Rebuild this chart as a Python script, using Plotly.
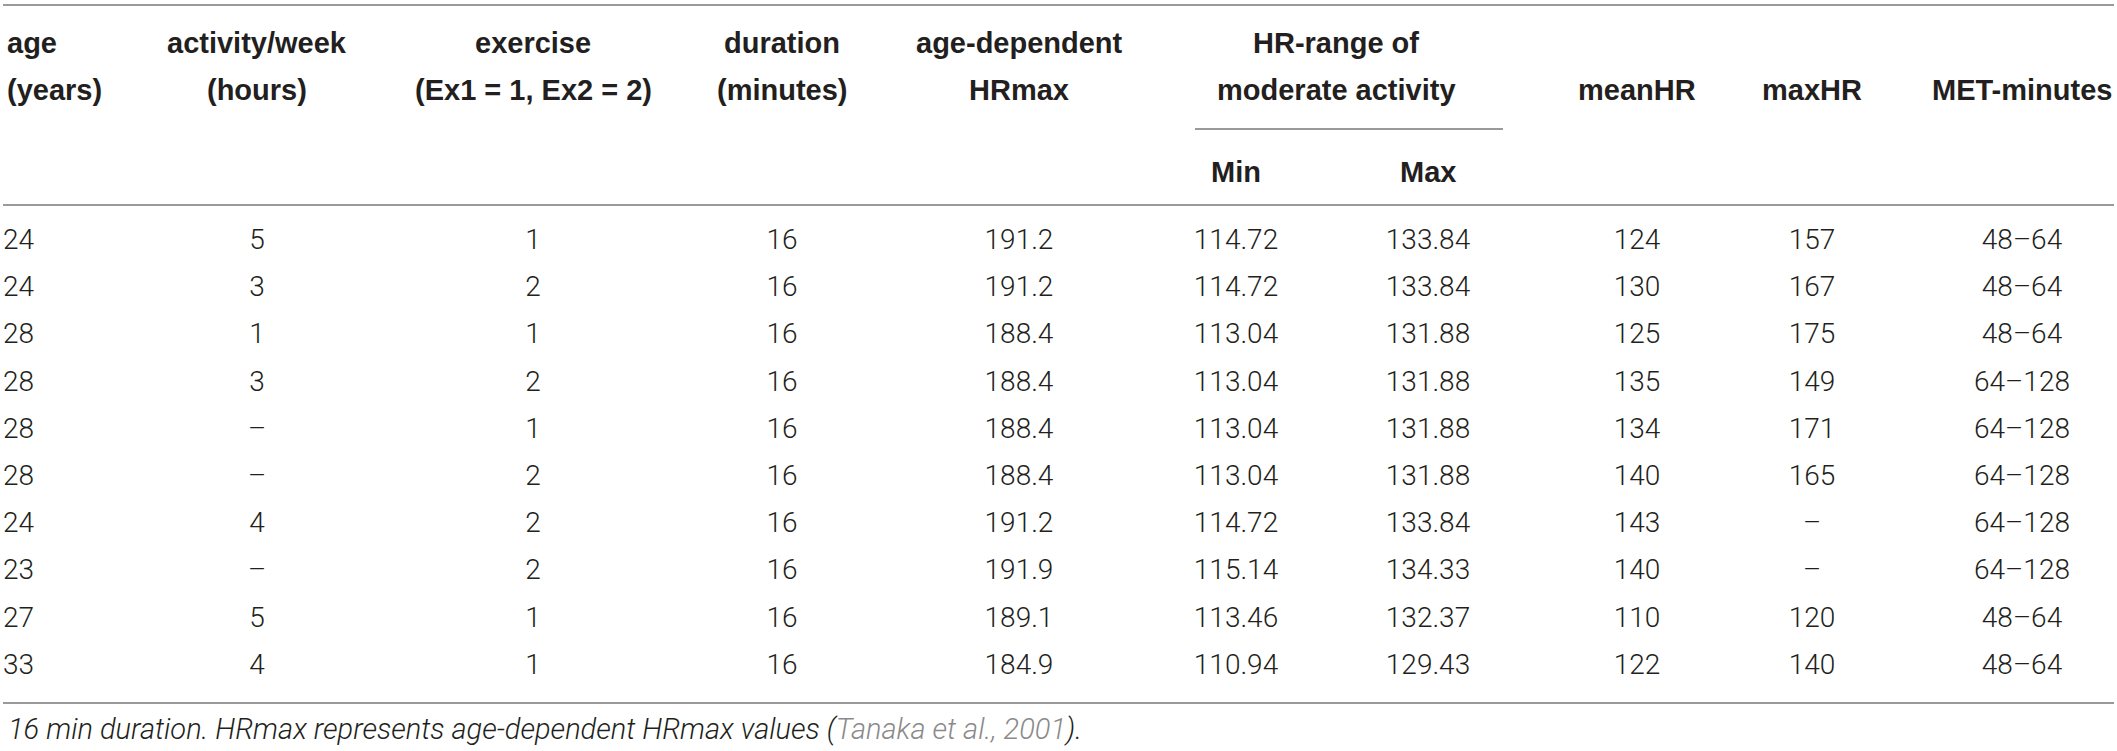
import plotly.graph_objects as go

# table values, one list per column
age = ["24", "24", "28", "28", "28", "28", "24", "23", "27", "33"]
activity = ["5", "3", "1", "3", "–", "–", "4", "–", "5", "4"]
exercise = ["1", "2", "1", "2", "1", "2", "2", "2", "1", "1"]
duration = ["16"] * 10
hrmax = ["191.2", "191.2", "188.4", "188.4", "188.4", "188.4", "191.2", "191.9", "189.1", "184.9"]
hr_min = ["114.72", "114.72", "113.04", "113.04", "113.04", "113.04", "114.72", "115.14", "113.46", "110.94"]
hr_max = ["133.84", "133.84", "131.88", "131.88", "131.88", "131.88", "133.84", "134.33", "132.37", "129.43"]
mean_hr = ["124", "130", "125", "135", "134", "140", "143", "140", "110", "122"]
max_hr = ["157", "167", "175", "149", "171", "165", "–", "–", "120", "140"]
met = ["48–64", "48–64", "48–64", "64–128", "64–128", "64–128", "64–128", "64–128", "48–64", "48–64"]

headers = [("age", "(years)"), ("activity/week", "(hours)"), ("exercise", "(Ex1 = 1, Ex2 = 2)"),
           ("duration", "(minutes)"), ("age-dependent", "HRmax"), None, None,
           ("", "meanHR"), ("", "maxHR"), ("", "MET-minutes")]
span_header = ("HR-range of", "moderate activity")
sub_headers = ["Min", "Max"]
footnote = "16 min duration. HRmax represents age-dependent HRmax values ("
citation = "Tanaka et al., 2001"

columns = [age, activity, exercise, duration, hrmax, hr_min, hr_max, mean_hr, max_hr, met]

# layout (pixel-like axis units)
W, H = 2117, 751
col_x = [3, 257, 533, 782, 1019, 1236, 1428, 1637, 1812, 2022]
row0, pitch = 242, 47.2
line_col = "#9a9a9a"
txt_col = "#231f20"
data_font = dict(family="Roboto, Liberation Sans, sans-serif", size=28, color=txt_col, weight=300)
head_font = dict(family="Liberation Sans, Arial, sans-serif", size=29, color=txt_col, weight="bold")

fig = go.Figure()
for j, col in enumerate(columns):
    ys = [row0 + i * pitch for i in range(len(col))]
    fig.add_trace(go.Scatter(
        x=[col_x[j]] * len(col), y=ys, text=col, mode="text",
        textposition="middle right" if j == 0 else "middle center",
        textfont=data_font, hoverinfo="skip", showlegend=False))

ann = []
for j, h in enumerate(headers):
    if h is None:
        continue
    for k, t in enumerate(h):
        if t:
            ann.append(dict(x=col_x[j] + (2 if j == 0 else 0), y=[43, 90][k], text=t,
                            xanchor="left" if j == 0 else "center", yanchor="middle",
                            showarrow=False, font=head_font))
span_c = (col_x[5] + col_x[6]) / 2 + 4
ann.append(dict(x=span_c, y=43, text=span_header[0], showarrow=False, font=head_font))
ann.append(dict(x=span_c, y=90, text=span_header[1], showarrow=False, font=head_font))
for j, t in zip([5, 6], sub_headers):
    ann.append(dict(x=col_x[j], y=172, text=t, showarrow=False, font=head_font))
ann.append(dict(x=6, y=729, xanchor="left", yanchor="middle", showarrow=False,
                text="<i>" + footnote + "<span style='color:#8a8a8a'>" + citation + "</span>).</i>",
                font=dict(family="Roboto, Liberation Sans, sans-serif", size=29, color=txt_col, weight=300)))

shapes = []
for y in [5, 205, 703]:
    shapes.append(dict(type="line", x0=3, x1=2114, y0=y, y1=y, line=dict(color=line_col, width=2)))
shapes.append(dict(type="line", x0=1195, x1=1503, y0=129, y1=129, line=dict(color=line_col, width=2)))

fig.update_layout(
    width=W, height=H, margin=dict(l=0, r=0, t=0, b=0),
    paper_bgcolor="white", plot_bgcolor="white",
    xaxis=dict(range=[0, W], visible=False, fixedrange=True),
    yaxis=dict(range=[H, 0], visible=False, fixedrange=True),
    annotations=ann, shapes=shapes)

# drop the default body margin so the figure fills the window exactly
fig.write_html("out.html", config={"displayModeBar": False},
               post_script="document.body.style.margin='0';document.body.style.overflow='hidden';")
